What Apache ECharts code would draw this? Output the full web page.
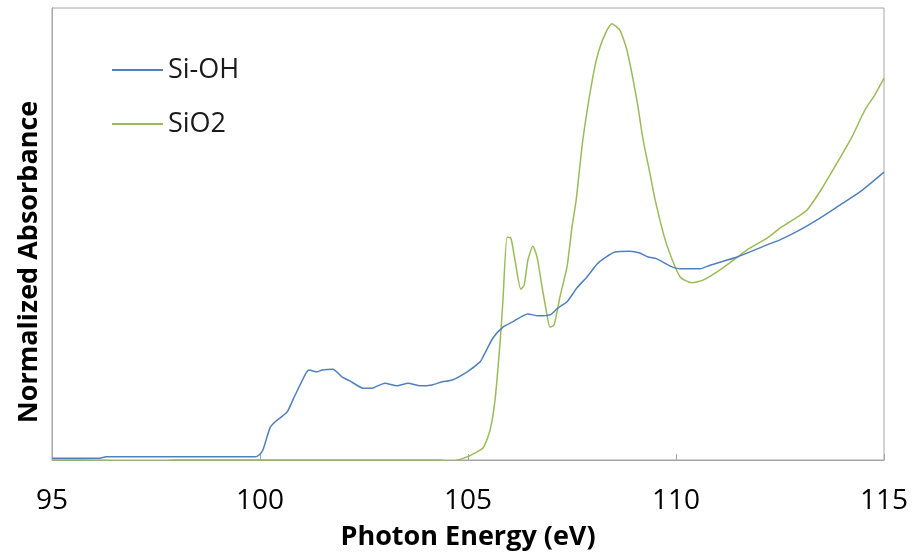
<!DOCTYPE html>
<html>
<head>
<meta charset="utf-8">
<script src="https://cdn.jsdelivr.net/npm/echarts@6/dist/echarts.min.js"></script>
<style>
html, body { margin: 0; padding: 0; background: #fff; }
#chart { width: 912px; height: 556px; }
</style>
</head>
<body>
<div id="chart"></div>
<script>
// photon energy (eV) / normalized absorbance
var siohEnergy = [95.00, 96.15, 96.30, 99.88, 99.98, 100.07, 100.24, 100.36, 100.65, 100.79,
	101.08, 101.18, 101.37, 101.49, 101.75, 101.97, 102.16, 102.48, 102.69, 103.00,
	103.29, 103.56, 103.85, 104.13, 104.38, 104.62, 104.98, 105.29, 105.36, 105.60,
	105.84, 106.06, 106.44, 106.68, 106.97, 107.16, 107.38, 107.62, 107.86, 108.13,
	108.53, 108.89, 109.13, 109.33, 109.54, 109.86, 110.10, 110.58, 110.82, 111.47,
	112.19, 112.50, 112.98, 113.39, 113.94, 114.42, 115.00];
var siohValue = [0.004, 0.004, 0.007, 0.007, 0.011, 0.022, 0.071, 0.084, 0.106, 0.133,
	0.188, 0.199, 0.195, 0.199, 0.201, 0.184, 0.175, 0.159, 0.159, 0.170,
	0.164, 0.170, 0.164, 0.166, 0.173, 0.177, 0.195, 0.217, 0.228, 0.270,
	0.294, 0.305, 0.323, 0.319, 0.321, 0.336, 0.350, 0.381, 0.405, 0.436,
	0.460, 0.462, 0.458, 0.449, 0.445, 0.429, 0.423, 0.423, 0.431, 0.449,
	0.476, 0.487, 0.509, 0.531, 0.564, 0.593, 0.637];

var sio2Energy = [95.00, 95.67, 96.92, 97.64, 97.96, 104.33, 104.57, 104.98, 105.29, 105.38,
	105.53, 105.65, 105.77, 105.84, 105.94, 106.03, 106.13, 106.27, 106.35, 106.44,
	106.56, 106.66, 106.78, 106.90, 106.97, 107.07, 107.21, 107.38, 107.50, 107.60,
	107.76, 108.00, 108.15, 108.34, 108.46, 108.65, 108.82, 109.06, 109.21, 109.38,
	109.50, 109.74, 109.98, 110.12, 110.38, 110.65, 111.13, 111.71, 112.19, 112.50,
	112.81, 113.15, 113.53, 113.94, 114.23, 114.54, 114.78, 115.00];
var sio2Value = [0.000, 0.000, -0.002, -0.002, 0.000, 0.000, -0.003, 0.007, 0.022, 0.029,
	0.066, 0.133, 0.259, 0.354, 0.493, 0.491, 0.442, 0.378, 0.387, 0.442,
	0.473, 0.449, 0.383, 0.321, 0.294, 0.299, 0.361, 0.427, 0.515, 0.575,
	0.708, 0.847, 0.907, 0.951, 0.965, 0.951, 0.907, 0.796, 0.708, 0.631,
	0.575, 0.487, 0.427, 0.403, 0.392, 0.398, 0.425, 0.465, 0.491, 0.513,
	0.531, 0.553, 0.604, 0.668, 0.715, 0.774, 0.808, 0.845];

var xTicks = [95, 100, 105, 110, 115];

function pairs(xs, ys) {
	var out = [];
	for (var i = 0; i < xs.length; i++) {
		out.push([xs[i], ys[i]]);
	}
	return out;
}

var chart = echarts.init(document.getElementById('chart'));
var font = '"Open Sans", "DejaVu Sans", sans-serif';

var option = {
	animation: false,
	grid: {
		left: 52, right: 28, top: 8, bottom: 96,
		show: true,
		borderColor: '#a6a6a6',
		borderWidth: 1
	},
	legend: {
		orient: 'vertical',
		left: 112,
		top: 53,
		padding: 0,
		itemGap: 20,
		icon: 'rect',
		itemWidth: 51,
		itemHeight: 2,
		textStyle: { fontFamily: font, fontSize: 27, color: '#1a1a1a', lineHeight: 34 },
		data: ['Si-OH', 'SiO2']
	},
	xAxis: {
		type: 'value',
		min: xTicks[0],
		max: xTicks[xTicks.length - 1],
		interval: 5,
		name: 'Photon Energy (eV)',
		nameLocation: 'middle',
		nameGap: 64,
		nameTextStyle: { fontFamily: font, fontSize: 27, fontWeight: 'bold', color: '#000' },
		axisLine: { onZero: false, lineStyle: { color: '#a6a6a6', width: 1 } },
		axisTick: { inside: true, length: 6, lineStyle: { color: '#a6a6a6' } },
		axisLabel: { fontFamily: font, fontSize: 28, color: '#000', margin: 27 },
		splitLine: { show: false }
	},
	yAxis: {
		type: 'value',
		min: 0,
		max: 1,
		name: 'Normalized Absorbance',
		nameLocation: 'middle',
		nameGap: 9,
		nameTextStyle: {
			fontFamily: font, fontSize: 27, fontWeight: 'bold', color: '#000',
			padding: [0, 56, 0, 0]  // nudges the title down like the original
		},
		axisLine: { show: true, lineStyle: { color: '#a6a6a6', width: 1 } },
		axisTick: { show: false },
		axisLabel: { show: false },
		splitLine: { show: false }
	},
	series: [{
		name: 'Si-OH',
		type: 'line',
		data: pairs(siohEnergy, siohValue),
		showSymbol: false,
		smooth: 0.2,
		color: '#4f81bd',
		lineStyle: { width: 1.5, color: '#4f81bd' },
		z: 3
	}, {
		name: 'SiO2',
		type: 'line',
		data: pairs(sio2Energy, sio2Value),
		showSymbol: false,
		smooth: 0.2,
		color: '#9bbb59',
		lineStyle: { width: 1.5, color: '#9bbb59' },
		z: 2
	}]
};
chart.setOption(option);
</script>
</body>
</html>
